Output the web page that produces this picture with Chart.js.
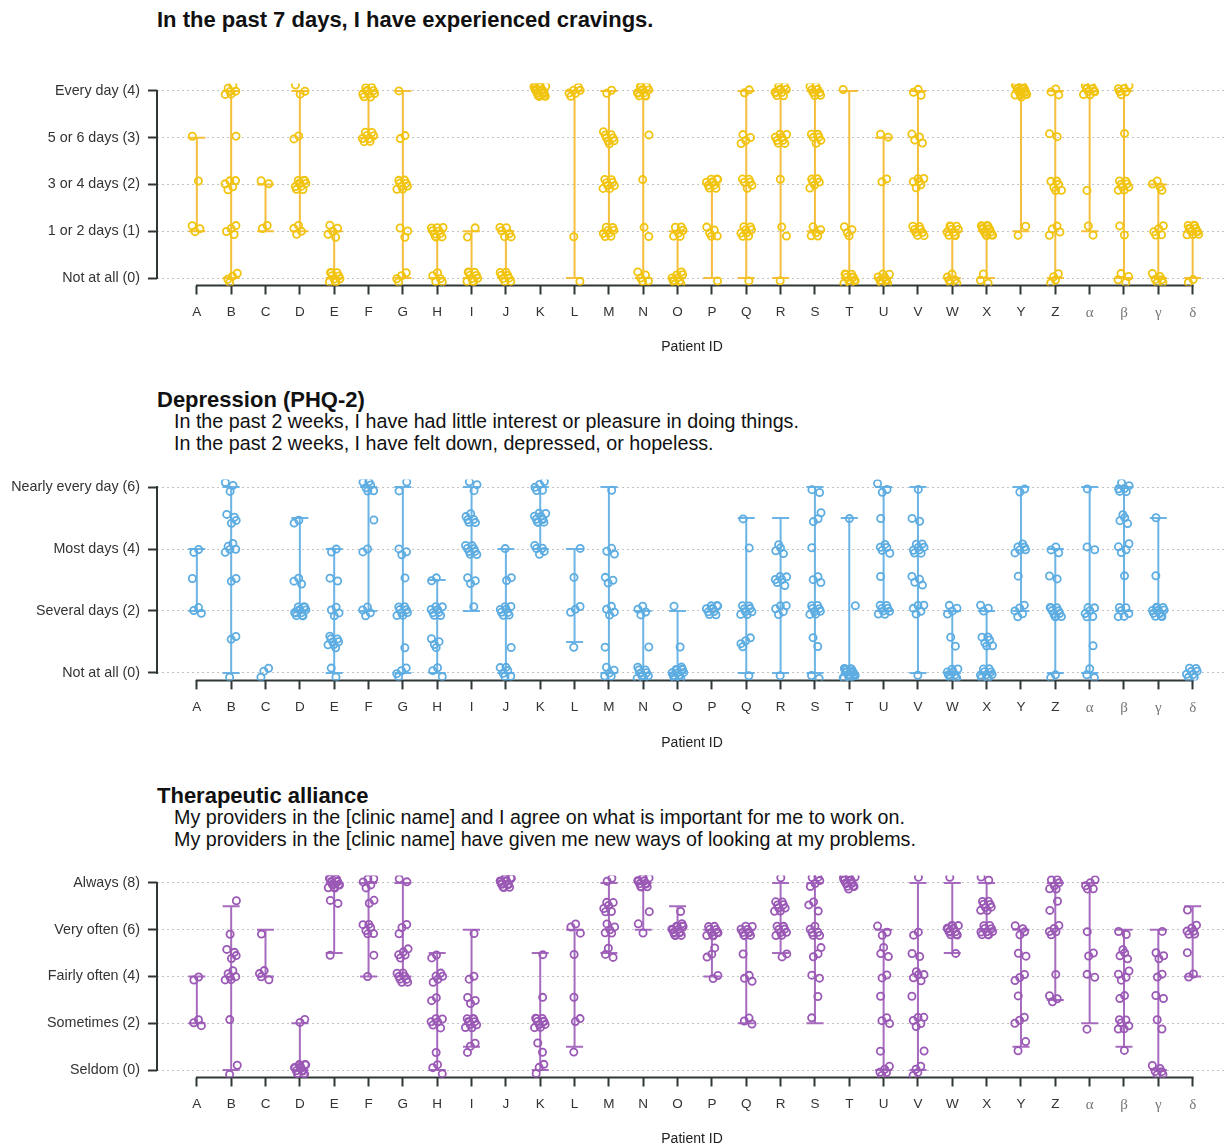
<!DOCTYPE html>
<html>
<head>
<meta charset="utf-8">
<title>Patient-reported outcomes by patient</title>
<script src="https://cdn.jsdelivr.net/npm/chart.js@4.4.1/dist/chart.umd.min.js"></script>
<style>
  html, body { margin: 0; padding: 0; background: #fff; width: 1227px; height: 1145px; overflow: hidden; }
  .panel-title { position: absolute; left: 157px; font: bold 22px "Liberation Sans", Arial, sans-serif; color: #111; white-space: nowrap; line-height: 24px; }
  .panel-sub { position: absolute; left: 174px; font: 19.7px "Liberation Sans", Arial, sans-serif; color: #111; white-space: pre; line-height: 21.5px; }
  canvas { position: absolute; left: 0; }
</style>
</head>
<body>
<div class="panel-title" style="top:8px">In the past 7 days, I have experienced cravings.</div>
<canvas id="craving" width="1227" height="305" style="top:60px"></canvas>

<div class="panel-title" style="top:388px">Depression (PHQ-2)</div>
<div class="panel-sub" style="top:411px">In the past 2 weeks, I have had little interest or pleasure in doing things.
In the past 2 weeks, I have felt down, depressed, or hopeless.</div>
<canvas id="depression" width="1227" height="305" style="top:460px"></canvas>

<div class="panel-title" style="top:784px">Therapeutic alliance</div>
<div class="panel-sub" style="top:807px">My providers in the [clinic name] and I agree on what is important for me to work on.
My providers in the [clinic name] have given me new ways of looking at my problems.</div>
<canvas id="alliance" width="1227" height="300" style="top:855px"></canvas>

<script>
// ---- data ----
const patients = ['A','B','C','D','E','F','G','H','I','J','K','L','M','N','O','P','Q','R','S','T','U','V','W','X','Y','Z','α','β','γ','δ'];

// Cravings (0-4)
const cravingTicks = [0, 1, 2, 3, 4];
const cravingLabels = ['Not at all (0)', '1 or 2 days (1)', '3 or 4 days (2)', '5 or 6 days (3)', 'Every day (4)'];
const cravingLow  = [1,0,1,1,0,3,0,0,0,0,4,0,1,0,0,0,0,0,1,0,0,1,0,0,1,0,1,0,0,0];
const cravingHigh = [3,4,2,4,1,4,4,1,1,1,4,4,4,4,1,2,4,4,4,4,3,4,1,1,4,4,4,4,2,1];
// number of responses at each level 0..4, per patient
const cravingCounts = [
  [0,3,1,1,0], [4,4,5,1,6], [0,2,2,0,0], [0,4,10,2,3], [10,5,0,0,0],
  [0,0,0,8,10], [4,3,8,2,1], [5,10,0,0,0], [10,2,0,0,0], [8,6,0,0,0],
  [0,0,0,0,20], [1,1,0,0,6], [0,8,8,8,2], [5,2,1,1,12], [10,6,0,0,0],
  [1,5,10,0,0], [1,8,6,4,2], [1,2,1,8,10], [0,5,6,6,8], [12,4,0,0,1],
  [10,0,2,2,0], [0,8,6,4,3], [6,10,0,0,0], [3,15,0,0,0], [0,2,0,0,20],
  [4,4,6,2,3], [0,2,1,0,10], [4,2,8,1,6], [6,5,4,0,0], [2,12,0,0,0]
];

// Depression, PHQ-2 sum (0-6)
const depressionTicks = [0, 2, 4, 6];
const depressionLabels = ['Not at all (0)', 'Several days (2)', 'Most days (4)', 'Nearly every day (6)'];
const depressionLow  = [2,0,0,2,0,2,0,0,2,0,4,1,0,0,0,2,0,0,0,0,2,0,0,0,2,0,0,2,2,0];
const depressionHigh = [4,6,0,5,4,6,6,3,6,4,6,4,6,2,2,2,5,5,6,5,6,6,2,2,6,4,6,6,5,0];
// number of responses at each level 0..6, per patient
const depressionCounts = [
  [0,0,3,1,2,0,0], [1,2,0,2,5,4,3], [3,0,0,0,0,0,0], [0,0,12,3,0,2,0], [2,8,4,2,2,0,0],
  [0,0,4,0,2,1,6], [4,1,8,1,3,0,2], [3,4,8,2,0,0,0], [0,0,1,3,8,6,3], [6,1,8,2,1,0,0],
  [0,0,0,0,5,10,5], [0,1,3,1,1,0,0], [5,1,4,3,3,0,1], [10,1,4,0,0,0,0], [15,1,1,0,0,0,0],
  [0,0,10,0,0,0,0], [1,4,8,0,1,1,0], [1,0,5,6,4,0,0], [2,2,8,3,1,3,2], [20,0,1,0,0,1,0],
  [0,0,8,1,5,1,3], [1,0,5,4,8,2,1], [10,2,4,0,0,0,0], [10,6,3,0,0,0,0], [0,0,5,1,6,0,2],
  [2,0,10,2,3,0,0], [3,1,6,0,2,0,1], [0,0,6,1,4,4,6], [0,0,12,1,0,1,0], [8,0,0,0,0,0,0]
];

// Therapeutic alliance sum (0-8)
const allianceTicks = [0, 2, 4, 6, 8];
const allianceLabels = ['Seldom (0)', 'Sometimes (2)', 'Fairly often (4)', 'Very often (6)', 'Always (8)'];
const allianceLow  = [2,0,4,0,5,4,4,0,1,8,0,1,5,6,6,4,2,5,2,8,0,0,5,6,1,3,2,1,0,4];
const allianceHigh = [4,7,6,2,8,8,8,5,6,8,5,6,8,8,7,6,6,8,8,8,6,8,8,8,6,8,8,6,6,7];
// number of responses at each level 0..8, per patient
const allianceCounts = [
  [0,0,3,0,2,0,0,0,0], [2,0,1,0,6,4,1,1,0], [0,0,0,0,4,0,1,0,0], [15,0,2,0,0,0,0,0,0], [0,0,0,0,0,1,0,2,15],
  [0,0,0,0,1,1,6,2,5], [0,0,0,0,8,5,3,0,2], [3,1,6,2,5,2,0,0,0], [0,3,10,3,2,0,1,0,0], [0,0,0,0,0,0,0,0,15],
  [3,2,10,1,0,1,0,0,0], [0,1,2,1,0,1,3,0,0], [0,0,0,0,0,3,5,6,2], [0,0,0,0,0,0,2,1,12], [0,0,0,0,0,0,15,1,0],
  [0,0,0,0,2,3,10,0,0], [0,0,3,0,3,1,10,0,0], [0,0,0,0,0,2,8,8,1], [0,0,1,1,2,3,6,3,5], [0,0,0,0,0,0,0,0,15],
  [5,1,3,1,2,3,3,0,0], [4,1,5,1,5,2,2,0,1], [0,0,0,0,0,1,12,0,1], [0,0,0,0,0,0,10,8,2], [0,2,3,1,3,2,4,0,0],
  [0,0,0,3,1,0,5,2,6], [0,0,1,0,2,2,1,0,5], [0,1,6,2,4,4,2,0,0], [6,0,2,2,2,3,1,0,0], [0,0,0,0,2,1,6,1,0]
];

// ---- drawing ----
const SANS = '"Liberation Sans", Arial, sans-serif';
const SERIF = '"Liberation Serif", "Times New Roman", serif';
const AXIS_COLOR = '#2f3636';

// Spread overlapping answers with a fixed (non-random) offset pattern so stacked circles stay visible.
function spreadPoints(counts, jx, jy) {
  const pts = [];
  counts.forEach((row, i) => {
    row.forEach((n, level) => {
      for (let k = 0; k < n; k++) {
        const t = i * 53 + level * 17 + k + 1;
        const u = (t * 0.6180339887) % 1;
        const w = (t * 0.7548776662 + 0.37) % 1;
        pts.push({ x: i + (u - 0.5) * 2 * jx, y: level + (w - 0.5) * 2 * jy });
      }
    });
  });
  return pts;
}

function rangeSegments(low, high) {
  const seg = [];
  low.forEach((lo, i) => {
    if (high[i] > lo) seg.push({ x: i, y: lo }, { x: i, y: high[i] }, { x: i, y: null });
  });
  return seg;
}

function rangeCaps(low, high) {
  const caps = [];
  low.forEach((lo, i) => {
    if (high[i] > lo) caps.push({ x: i, y: lo }, { x: i, y: high[i] });
  });
  return caps;
}

// R-style axis lines running from the first to the last tick only
const baseAxes = {
  id: 'baseAxes',
  beforeDatasetsDraw(chart) {
    const { ctx, chartArea, scales: { x, y } } = chart;
    const yt = y.ticks, xt = x.ticks;
    ctx.save();
    ctx.strokeStyle = AXIS_COLOR;
    ctx.lineWidth = 2;
    ctx.beginPath();
    ctx.moveTo(chartArea.left, y.getPixelForValue(yt[0].value) + 1);
    ctx.lineTo(chartArea.left, y.getPixelForValue(yt[yt.length - 1].value) - 1);
    ctx.moveTo(x.getPixelForValue(xt[0].value) - 1, chartArea.bottom);
    ctx.lineTo(x.getPixelForValue(xt[xt.length - 1].value) + 1, chartArea.bottom);
    ctx.stroke();
    ctx.restore();
  }
};

function makePanel(id, opt) {
  const segs = rangeSegments(opt.low, opt.high);
  const caps = rangeCaps(opt.low, opt.high);
  const pts = spreadPoints(opt.counts, 0.18, opt.jitterY);
  const top = opt.ticks[opt.ticks.length - 1];
  const pad = top * 0.04;

  new Chart(document.getElementById(id), {
    type: 'scatter',
    data: {
      datasets: [
        { type: 'scatter', data: pts, pointStyle: 'circle', pointRadius: 3.6, pointBorderWidth: 1.8,
          borderColor: opt.color, backgroundColor: 'rgba(0,0,0,0)', order: 0 },
        { type: 'line', data: segs, borderColor: opt.lineColor, borderWidth: 2, pointRadius: 0,
          spanGaps: false, fill: false, tension: 0, order: 1 },
        { type: 'scatter', data: caps, pointStyle: 'line', pointRadius: 8.5, pointBorderWidth: 2,
          borderColor: opt.lineColor, backgroundColor: opt.lineColor, order: 2 }
      ]
    },
    options: {
      responsive: false,
      animation: false,
      events: [],
      layout: { autoPadding: false, padding: { top: opt.padTop, bottom: opt.padBottom, left: 0, right: 0 } },
      plugins: { legend: { display: false }, tooltip: { enabled: false }, title: { display: false } },
      scales: {
        x: {
          type: 'linear',
          min: -1.16,
          max: 30.0,
          afterBuildTicks: (s) => { s.ticks = patients.map((p, i) => ({ value: i })); },
          afterFit: (s) => { s.height = opt.xHeight; s.paddingLeft = 0; s.paddingRight = 0; },
          border: { display: false },
          grid: { drawOnChartArea: false, drawTicks: true, tickLength: 9, tickColor: AXIS_COLOR, tickWidth: 2 },
          ticks: {
            autoSkip: false, maxRotation: 0, padding: 10,
            callback: (v) => patients[v],
            font: (c) => (c.index >= 26 ? { family: SERIF, size: 15 } : { family: SANS, size: 13.5 }),
            color: (c) => (c.index >= 26 ? '#777' : '#333')
          },
          title: { display: true, text: 'Patient ID', font: { family: SANS, size: 14 }, color: '#222',
                   padding: { top: 0, bottom: 3 } }
        },
        y: {
          type: 'linear',
          min: -pad,
          max: top + pad,
          afterBuildTicks: (s) => { s.ticks = opt.ticks.map((v) => ({ value: v })); },
          afterFit: (s) => { s.width = 157; },
          border: { display: false, dash: [2, 3] },
          grid: { color: '#c2c2c2', lineWidth: 1, drawTicks: true, tickLength: 9,
                  tickColor: AXIS_COLOR, tickWidth: 2, tickBorderDash: [] },
          ticks: {
            padding: 8,
            callback: (v) => opt.labels[opt.ticks.indexOf(v)],
            font: { family: SANS, size: 14.3 },
            color: '#333'
          }
        }
      }
    },
    plugins: [baseAxes]
  });
}

makePanel('craving', {
  ticks: cravingTicks, labels: cravingLabels, low: cravingLow, high: cravingHigh, counts: cravingCounts,
  color: '#F1C40F', lineColor: '#F5BE3C', jitterY: 0.13,
  padTop: 23.5, padBottom: 6.6, xHeight: 72.9
});
makePanel('depression', {
  ticks: depressionTicks, labels: depressionLabels, low: depressionLow, high: depressionHigh, counts: depressionCounts,
  color: '#5DADE2', lineColor: '#6BB4E5', jitterY: 0.19,
  padTop: 19.6, padBottom: 10.6, xHeight: 74
});
makePanel('alliance', {
  ticks: allianceTicks, labels: allianceLabels, low: allianceLow, high: allianceHigh, counts: allianceCounts,
  color: '#9B59B6', lineColor: '#A66BBE', jitterY: 0.26,
  padTop: 20.5, padBottom: 4.6, xHeight: 72.9
});
</script>
</body>
</html>
